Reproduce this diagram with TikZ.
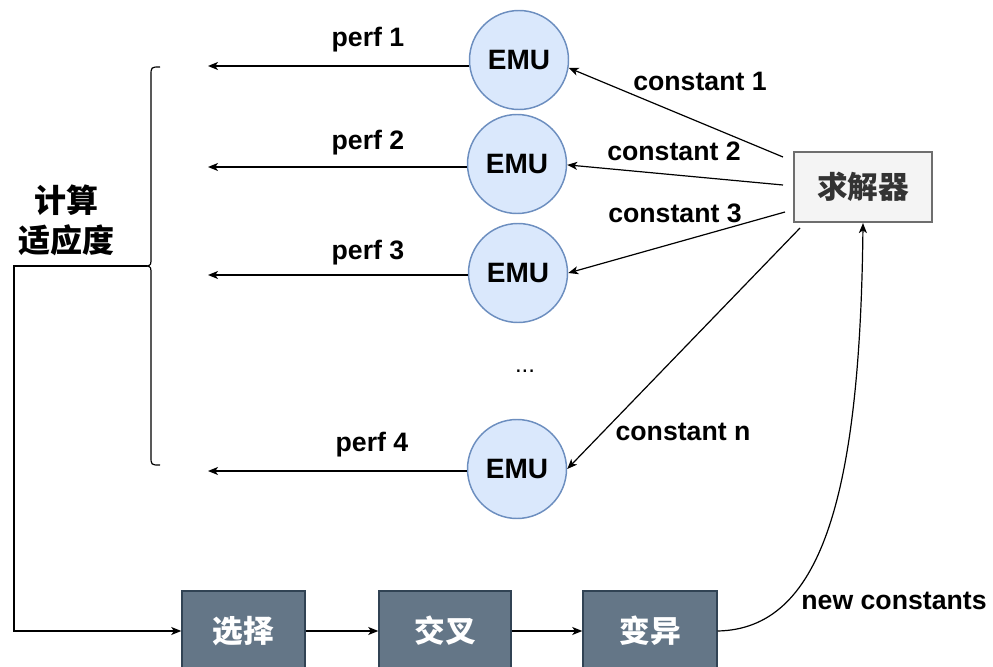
\documentclass[tikz,border=0pt]{standalone}
\usepackage{fontspec}
\setmainfont{Liberation Sans}
\newfontfamily\cjk{Noto Sans CJK SC}
\usetikzlibrary{arrows.meta}
\definecolor{emufill}{HTML}{DAE8FC}
\definecolor{emuline}{HTML}{6C8EBF}
\definecolor{opfill}{HTML}{647687}
\definecolor{opline}{HTML}{314354}
\definecolor{solfill}{HTML}{F4F4F4}
\definecolor{solline}{HTML}{6E6E6E}
\definecolor{soltext}{HTML}{333333}
\begin{document}
\begin{tikzpicture}[x=0.75pt,y=-0.75pt,
  emu/.style={circle, draw=emuline, fill=emufill, line width=1.1pt,
    minimum size=74.25pt, inner sep=0pt, font=\fontsize{21}{24}\selectfont\bfseries},
  opbox/.style={draw=opline, fill=opfill, line width=1.1pt, minimum height=60pt,
    text=white, font=\cjk\fontsize{23}{26}\selectfont\bfseries},
  solver/.style={draw=solline, fill=solfill, line width=1.6pt, minimum width=103.5pt,
    minimum height=52.5pt, text=soltext, font=\cjk\fontsize{23}{26}\selectfont\bfseries},
  lbl/.style={font=\fontsize{20}{24}\selectfont\bfseries, inner sep=0pt},
  cjklbl/.style={font=\cjk\fontsize{24}{28}\selectfont\bfseries, inner sep=0pt},
  arr/.style={-{Stealth[length=7.5pt,width=6pt,inset=2pt]}, line width=0.9pt},
  plain/.style={line width=0.9pt}]
\useasboundingbox (0,0) rectangle (993,667);

% evaluation units
\node[emu] (e1) at (519,60) {EMU};
\node[emu] (e2) at (517,164) {EMU};
\node[emu] (e3) at (518,273) {EMU};
\node[emu] (e4) at (517,469) {EMU};
\node at (525,371) {\fontsize{18}{20}\selectfont ...};

% solver
\node[solver] (sol) at (863,187) {求解器};

% genetic operators
\node[opbox, minimum width=92.25pt] (sel) at (243.5,631) {选择};
\node[opbox, minimum width=99pt] (cro) at (445,631) {交叉};
\node[opbox, minimum width=100.5pt] (mut) at (650,631) {变异};

% fitness label
\node[cjklbl] (fit1) at (66,200) {计算};
\node[cjklbl] (fit2) at (66,240) {适应度};

% performance outputs
\coordinate (p1) at (208,66);
\coordinate (p2) at (208,167);
\coordinate (p3) at (208,275);
\coordinate (p4) at (208,471);
\draw[arr] (e1.west |- p1) -- (p1);
\draw[arr] (e2.west |- p2) -- (p2);
\draw[arr] (e3.west |- p3) -- (p3);
\draw[arr] (e4.west |- p4) -- (p4);
\node[lbl] at (368,40) {perf 1};
\node[lbl] at (368,143) {perf 2};
\node[lbl] at (368,253) {perf 3};
\node[lbl] at (372,445) {perf 4};

% constants sent by the solver
\coordinate (s1) at (783,157);
\coordinate (s2) at (783,185);
\coordinate (s3) at (785,212);
\coordinate (s4) at (800,228);
\draw[arr] (s1) -- (e1.-9);
\draw[arr] (s2) -- (e2.-1);
\draw[arr] (s3) -- (e3.east);
\draw[arr] (s4) -- (e4.east);
\node[lbl] at (700,81) {constant 1};
\node[lbl] at (674,151) {constant 2};
\node[lbl] at (675,213) {constant 3};
\node[lbl] at (683,432) {constant n};

% brace gathering the results
\coordinate (tip) at (147,266);
\draw[plain] (160,67) .. controls (151,67) .. (151,76) -- (151,257)
  .. controls (151,265) .. (tip) .. controls (151,267) .. (151,275)
  -- (151,456) .. controls (151,465) .. (160,465);

% loop back into selection
\coordinate (corner) at (14,266);
\draw[arr] (tip) -- (corner) |- (sel.west);
\draw[arr] (sel) -- (cro);
\draw[arr] (cro) -- (mut);
\draw[arr] (mut.east) .. controls (820,629) and (860,500) .. (sol.south);
\node[lbl] at (894,601) {new constants};
\end{tikzpicture}
\end{document}
